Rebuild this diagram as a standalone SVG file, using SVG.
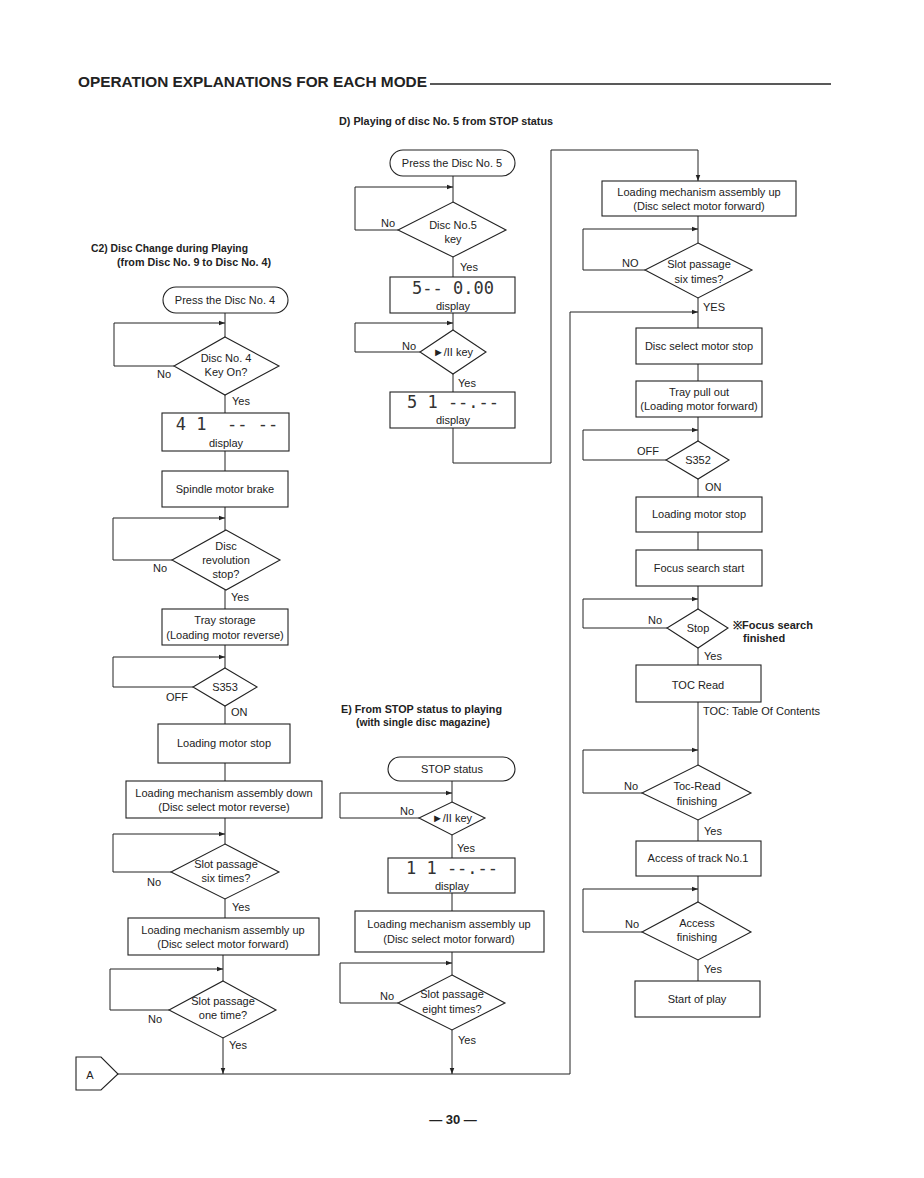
<svg xmlns="http://www.w3.org/2000/svg" width="924" height="1178" viewBox="0 0 924 1178">
<defs>
<marker id="ah" viewBox="0 0 8 8" refX="8" refY="4" markerWidth="6" markerHeight="6" orient="auto" markerUnits="userSpaceOnUse">
<path d="M0,1 L8,4 L0,7 z" fill="#222"/>
</marker>
<style>
.bx{fill:#fff;stroke:#222;stroke-width:1.1}
.ln{fill:none;stroke:#222;stroke-width:1}
.t{font-family:"Liberation Sans",Arial,sans-serif;font-size:11px;fill:#222;text-anchor:middle}
.l{font-family:"Liberation Sans",Arial,sans-serif;font-size:11px;fill:#222}
.h{font-family:"Liberation Sans",Arial,sans-serif;font-size:11px;font-weight:bold;fill:#222}
.d{font-family:"DejaVu Sans Mono","Liberation Mono",monospace;font-size:17px;fill:#333;text-anchor:middle}
</style>
</defs>
<rect width="924" height="1178" fill="#fff"/>
<g id="header">
<text x="78" y="87" font-family="Liberation Sans,Arial,sans-serif" font-size="15" font-weight="bold" fill="#222" textLength="349" lengthAdjust="spacingAndGlyphs">OPERATION EXPLANATIONS FOR EACH MODE</text>
<line x1="430" y1="84" x2="831" y2="84" stroke="#222" stroke-width="1.3"/>
<text class="h" x="339" y="125" textLength="214" lengthAdjust="spacingAndGlyphs">D) Playing of disc No. 5 from STOP status</text>
<text class="h" x="91" y="252" textLength="157" lengthAdjust="spacingAndGlyphs">C2) Disc Change during Playing</text>
<text class="h" x="117" y="266" textLength="154" lengthAdjust="spacingAndGlyphs">(from Disc No. 9 to Disc No. 4)</text>
<text class="h" x="341" y="713" textLength="161" lengthAdjust="spacingAndGlyphs">E) From STOP status to playing</text>
<text class="h" x="356" y="726" textLength="134" lengthAdjust="spacingAndGlyphs">(with single disc magazine)</text>
<text x="453" y="1124" font-family="Liberation Sans,Arial,sans-serif" font-size="13" font-weight="bold" fill="#222" text-anchor="middle">— 30 —</text>
</g>
<g id="connectors">
<path class="ln" d="M225,313 V337"/>
<path class="ln" d="M174,366 H114 V323 H225" marker-end="url(#ah)"/>
<path class="ln" d="M225,395 V413"/>
<path class="ln" d="M225,451 V471"/>
<path class="ln" d="M225,507 V530"/>
<path class="ln" d="M172,560 H113 V518 H225" marker-end="url(#ah)"/>
<path class="ln" d="M225,590 V609"/>
<path class="ln" d="M225,645 V668"/>
<path class="ln" d="M193,687 H113 V657 H225" marker-end="url(#ah)"/>
<path class="ln" d="M225,706 V724"/>
<path class="ln" d="M225,763 V781"/>
<path class="ln" d="M225,818 V844"/>
<path class="ln" d="M171,872 H113 V834 H225" marker-end="url(#ah)"/>
<path class="ln" d="M225,899 V918"/>
<path class="ln" d="M223,955 V981"/>
<path class="ln" d="M169,1010 H110 V969 H223" marker-end="url(#ah)"/>
<path class="ln" d="M223,1038 V1074" marker-end="url(#ah)"/>
<path class="ln" d="M118,1074 H570 V312 H698" marker-end="url(#ah)"/>
<path class="ln" d="M453,176 V202"/>
<path class="ln" d="M398,230 H355 V187 H453" marker-end="url(#ah)"/>
<path class="ln" d="M453,257 V277"/>
<path class="ln" d="M453,313 V330"/>
<path class="ln" d="M420,352 H355 V323 H453" marker-end="url(#ah)"/>
<path class="ln" d="M453,374 V392"/>
<path class="ln" d="M453,428 V463 H551 V150 H698 V181" marker-end="url(#ah)"/>
<path class="ln" d="M452,781 V802"/>
<path class="ln" d="M419,818 H340 V793 H452" marker-end="url(#ah)"/>
<path class="ln" d="M452,835 V858"/>
<path class="ln" d="M452,893 V911"/>
<path class="ln" d="M452,952 V975"/>
<path class="ln" d="M398,1003 H340 V963 H452" marker-end="url(#ah)"/>
<path class="ln" d="M452,1030 V1074" marker-end="url(#ah)"/>
<path class="ln" d="M698,216 V243"/>
<path class="ln" d="M645,270 H583 V229 H698" marker-end="url(#ah)"/>
<path class="ln" d="M698,298 V328"/>
<path class="ln" d="M698,364 V381"/>
<path class="ln" d="M698,417 V441"/>
<path class="ln" d="M666,460 H583 V430 H698" marker-end="url(#ah)"/>
<path class="ln" d="M698,479 V497"/>
<path class="ln" d="M698,532 V550"/>
<path class="ln" d="M698,586 V609"/>
<path class="ln" d="M667,628 H583 V599 H698" marker-end="url(#ah)"/>
<path class="ln" d="M698,648 V665"/>
<path class="ln" d="M698,702 V765"/>
<path class="ln" d="M642,793 H583 V750 H698" marker-end="url(#ah)"/>
<path class="ln" d="M698,820 V841"/>
<path class="ln" d="M698,876 V902"/>
<path class="ln" d="M642,932 H583 V889 H698" marker-end="url(#ah)"/>
<path class="ln" d="M698,960 V981"/>
</g>
<g id="edge-labels">
<text class="l" x="157" y="378">No</text>
<text class="l" x="232" y="405">Yes</text>
<text class="l" x="153" y="572">No</text>
<text class="l" x="231" y="601">Yes</text>
<text class="l" x="166" y="701">OFF</text>
<text class="l" x="231" y="716">ON</text>
<text class="l" x="147" y="886">No</text>
<text class="l" x="232" y="911">Yes</text>
<text class="l" x="148" y="1023">No</text>
<text class="l" x="229" y="1049">Yes</text>
<text class="l" x="381" y="227">No</text>
<text class="l" x="460" y="271">Yes</text>
<text class="l" x="402" y="350">No</text>
<text class="l" x="458" y="387">Yes</text>
<text class="l" x="400" y="815">No</text>
<text class="l" x="457" y="852">Yes</text>
<text class="l" x="380" y="1000">No</text>
<text class="l" x="458" y="1044">Yes</text>
<text class="l" x="622" y="267">NO</text>
<text class="l" x="703" y="311">YES</text>
<text class="l" x="637" y="455">OFF</text>
<text class="l" x="705" y="491">ON</text>
<text class="l" x="648" y="624">No</text>
<text class="l" x="704" y="660">Yes</text>
<text class="l" x="624" y="790">No</text>
<text class="l" x="704" y="835">Yes</text>
<text class="l" x="625" y="928">No</text>
<text class="l" x="704" y="973">Yes</text>
<text class="h" x="733" y="629">※Focus search</text>
<text class="h" x="743" y="642">finished</text>
<text class="l" x="703" y="715">TOC: Table Of Contents</text>
</g>
<g id="c2-start"><rect class="bx" x="163" y="287" width="125" height="26" rx="13"/><text class="t" x="225" y="304">Press the Disc No. 4</text></g>
<g id="c2-key"><polygon class="bx" points="225,337 279,366 225,395 174,366"/><text class="t" x="226" y="362">Disc No. 4</text><text class="t" x="226" y="376">Key On?</text></g>
<g id="c2-display"><rect class="bx" x="162" y="413" width="127" height="38"/><text class="d" x="227" y="430" xml:space="preserve">4 1  -- --</text><text class="t" x="226" y="447">display</text></g>
<g id="c2-brake"><rect class="bx" x="162" y="471" width="126" height="36"/><text class="t" x="225" y="493">Spindle motor brake</text></g>
<g id="c2-rev"><polygon class="bx" points="226,530 280,560 226,590 172,560"/><text class="t" x="226" y="550">Disc</text><text class="t" x="226" y="564">revolution</text><text class="t" x="226" y="578">stop?</text></g>
<g id="c2-tray"><rect class="bx" x="162" y="609" width="126" height="36"/><text class="t" x="225" y="624">Tray storage</text><text class="t" x="225" y="639">(Loading motor reverse)</text></g>
<g id="c2-s353"><polygon class="bx" points="225,668 257,687 225,706 193,687"/><text class="t" x="225" y="691">S353</text></g>
<g id="c2-lmstop"><rect class="bx" x="158" y="724" width="132" height="39"/><text class="t" x="224" y="747">Loading motor stop</text></g>
<g id="c2-down"><rect class="bx" x="126" y="781" width="196" height="37"/><text class="t" x="224" y="797">Loading mechanism assembly down</text><text class="t" x="224" y="811">(Disc select motor reverse)</text></g>
<g id="c2-six"><polygon class="bx" points="225,844 279,872 225,899 171,872"/><text class="t" x="226" y="868">Slot passage</text><text class="t" x="226" y="882">six times?</text></g>
<g id="c2-up"><rect class="bx" x="128" y="918" width="191" height="37"/><text class="t" x="223" y="934">Loading mechanism assembly up</text><text class="t" x="223" y="948">(Disc select motor forward)</text></g>
<g id="c2-one"><polygon class="bx" points="223,981 276,1010 223,1038 169,1010"/><text class="t" x="223" y="1005">Slot passage</text><text class="t" x="223" y="1019">one time?</text></g>
<g id="connector-a"><polygon class="bx" points="76,1057 101,1057 118,1074 101,1090 76,1090"/><text class="t" x="90" y="1079">A</text></g>
<g id="d-start"><rect class="bx" x="390" y="150" width="125" height="26" rx="13"/><text class="t" x="452" y="167">Press the Disc No. 5</text></g>
<g id="d-key"><polygon class="bx" points="453,202 506,230 453,257 398,230"/><text class="t" x="453" y="229">Disc No.5</text><text class="t" x="453" y="243">key</text></g>
<g id="d-display1"><rect class="bx" x="390" y="277" width="125" height="36"/><text class="d" x="453" y="294" xml:space="preserve">5-- 0.00</text><text class="t" x="453" y="310">display</text></g>
<g id="d-play"><polygon class="bx" points="453,330 486,352 453,374 420,352"/><text class="t" x="453" y="356">►/II key</text></g>
<g id="d-display2"><rect class="bx" x="390" y="392" width="125" height="36"/><text class="d" x="453" y="408" xml:space="preserve">5 1 --.--</text><text class="t" x="453" y="424">display</text></g>
<g id="e-start"><rect class="bx" x="388" y="757" width="127" height="24" rx="12"/><text class="t" x="452" y="773">STOP status</text></g>
<g id="e-play"><polygon class="bx" points="452,802 485,818 452,835 419,818"/><text class="t" x="452" y="822">►/II key</text></g>
<g id="e-display"><rect class="bx" x="388" y="858" width="127" height="35"/><text class="d" x="452" y="874" xml:space="preserve">1 1 --.--</text><text class="t" x="452" y="890">display</text></g>
<g id="e-up"><rect class="bx" x="355" y="911" width="189" height="41"/><text class="t" x="449" y="928">Loading mechanism assembly up</text><text class="t" x="449" y="943">(Disc select motor forward)</text></g>
<g id="e-eight"><polygon class="bx" points="452,975 505,1003 452,1030 398,1003"/><text class="t" x="452" y="998">Slot passage</text><text class="t" x="452" y="1013">eight times?</text></g>
<g id="r-up"><rect class="bx" x="602" y="181" width="194" height="35"/><text class="t" x="699" y="196">Loading mechanism assembly up</text><text class="t" x="699" y="210">(Disc select motor forward)</text></g>
<g id="r-six"><polygon class="bx" points="698,243 752,270 698,298 645,270"/><text class="t" x="699" y="268">Slot passage</text><text class="t" x="699" y="283">six times?</text></g>
<g id="r-dsstop"><rect class="bx" x="636" y="328" width="126" height="36"/><text class="t" x="699" y="350">Disc select motor stop</text></g>
<g id="r-tray"><rect class="bx" x="636" y="381" width="126" height="36"/><text class="t" x="699" y="396">Tray pull out</text><text class="t" x="699" y="410">(Loading motor forward)</text></g>
<g id="r-s352"><polygon class="bx" points="698,441 729,460 698,479 666,460"/><text class="t" x="698" y="464">S352</text></g>
<g id="r-lmstop"><rect class="bx" x="636" y="497" width="126" height="35"/><text class="t" x="699" y="518">Loading motor stop</text></g>
<g id="r-focus"><rect class="bx" x="636" y="550" width="126" height="36"/><text class="t" x="699" y="572">Focus search start</text></g>
<g id="r-stop"><polygon class="bx" points="698,609 728,628 698,648 667,628"/><text class="t" x="698" y="632">Stop</text></g>
<g id="r-toc"><rect class="bx" x="636" y="665" width="125" height="37"/><text class="t" x="698" y="689">TOC Read</text></g>
<g id="r-tocfin"><polygon class="bx" points="698,765 751,793 698,820 642,793"/><text class="t" x="697" y="790">Toc-Read</text><text class="t" x="697" y="805">finishing</text></g>
<g id="r-access"><rect class="bx" x="636" y="841" width="125" height="35"/><text class="t" x="698" y="862">Access of track No.1</text></g>
<g id="r-accfin"><polygon class="bx" points="698,902 751,932 698,960 642,932"/><text class="t" x="697" y="927">Access</text><text class="t" x="697" y="941">finishing</text></g>
<g id="r-play"><rect class="bx" x="635" y="981" width="125" height="36"/><text class="t" x="697" y="1003">Start of play</text></g>
</svg>
